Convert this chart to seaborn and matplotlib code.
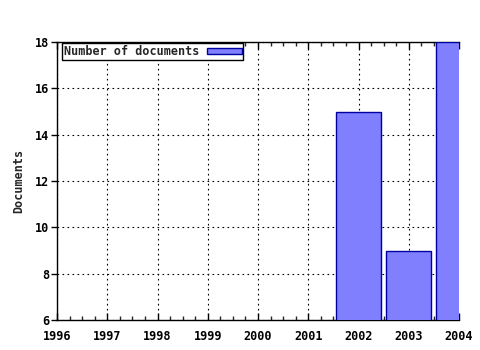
import matplotlib
matplotlib.use("Agg")
import matplotlib.pyplot as plt
import seaborn as sns
import pandas as pd
from matplotlib.ticker import MultipleLocator
from matplotlib.patches import Patch

years = [2002, 2003, 2004]
documents = [15, 9, 18]
series_label = "Number of documents"
x_ticks = [1996, 1997, 1998, 1999, 2000, 2001, 2002, 2003, 2004]
y_ticks = [6, 8, 10, 12, 14, 16, 18]

sns.set_style("white")
plt.rcParams['font.family'] = ['DejaVu Sans Mono', 'DejaVu Sans']
plt.rcParams['font.weight'] = 'bold'

df = pd.DataFrame({"year": years, "docs": documents})

fig = plt.figure(figsize=(4.8, 3.5), dpi=100)
ax = fig.add_axes([57/480, 1-320/350, (459-57)/480, (320-42)/350])

sns.barplot(data=df, x="year", y="docs", native_scale=True, width=0.9,
            color="#8080ff", saturation=1, edgecolor="#0000a0", linewidth=1,
            ax=ax, zorder=3)

ax.set_xlim(1996, 2004)
ax.set_ylim(6, 18)
ax.set_xticks(x_ticks)
ax.set_xticklabels([str(v) for v in x_ticks])
ax.set_yticks(y_ticks)
ax.set_yticklabels([str(v) for v in y_ticks])
ax.xaxis.set_minor_locator(MultipleLocator(0.25))

ax.grid(True, which="major", color="black", linestyle=(0, (1.5, 3)), linewidth=0.8, zorder=0)
ax.set_axisbelow(True)

for s in ["left", "bottom", "top"]:
    ax.spines[s].set_visible(True)
    ax.spines[s].set_color("black")
    ax.spines[s].set_linewidth(1.0)
ax.spines["right"].set_visible(False)

ax.tick_params(axis="x", which="major", direction="in", length=5, width=1,
               top=True, bottom=True, pad=7, labelsize=8.5, colors="black")
ax.tick_params(axis="x", which="minor", direction="in", length=3, width=1,
               top=True, bottom=True)
ax.tick_params(axis="y", which="major", direction="out", length=4, width=1,
               left=True, right=False, pad=1.5, labelsize=8.5, colors="black")

for lbl in ax.get_xticklabels() + ax.get_yticklabels():
    lbl.set_fontweight("bold")

ax.set_xlabel("")
ax.set_ylabel("Documents", fontsize=8.5, fontweight="bold", labelpad=7)

handle = Patch(facecolor="#8080ff", edgecolor="#0000a0", linewidth=1)
leg = ax.legend([handle], [series_label], loc="upper left", bbox_to_anchor=(0.0125, 0.995),
                markerfirst=False, frameon=True, fancybox=False, framealpha=1,
                edgecolor="black", fontsize=8.5, handlelength=2.9, handleheight=0.5,
                handletextpad=0.7, borderpad=0.15, borderaxespad=0.0)
leg.get_frame().set_linewidth(1.0)
for t in leg.get_texts():
    t.set_fontweight("bold")

fig.savefig("out.png", dpi=100)
